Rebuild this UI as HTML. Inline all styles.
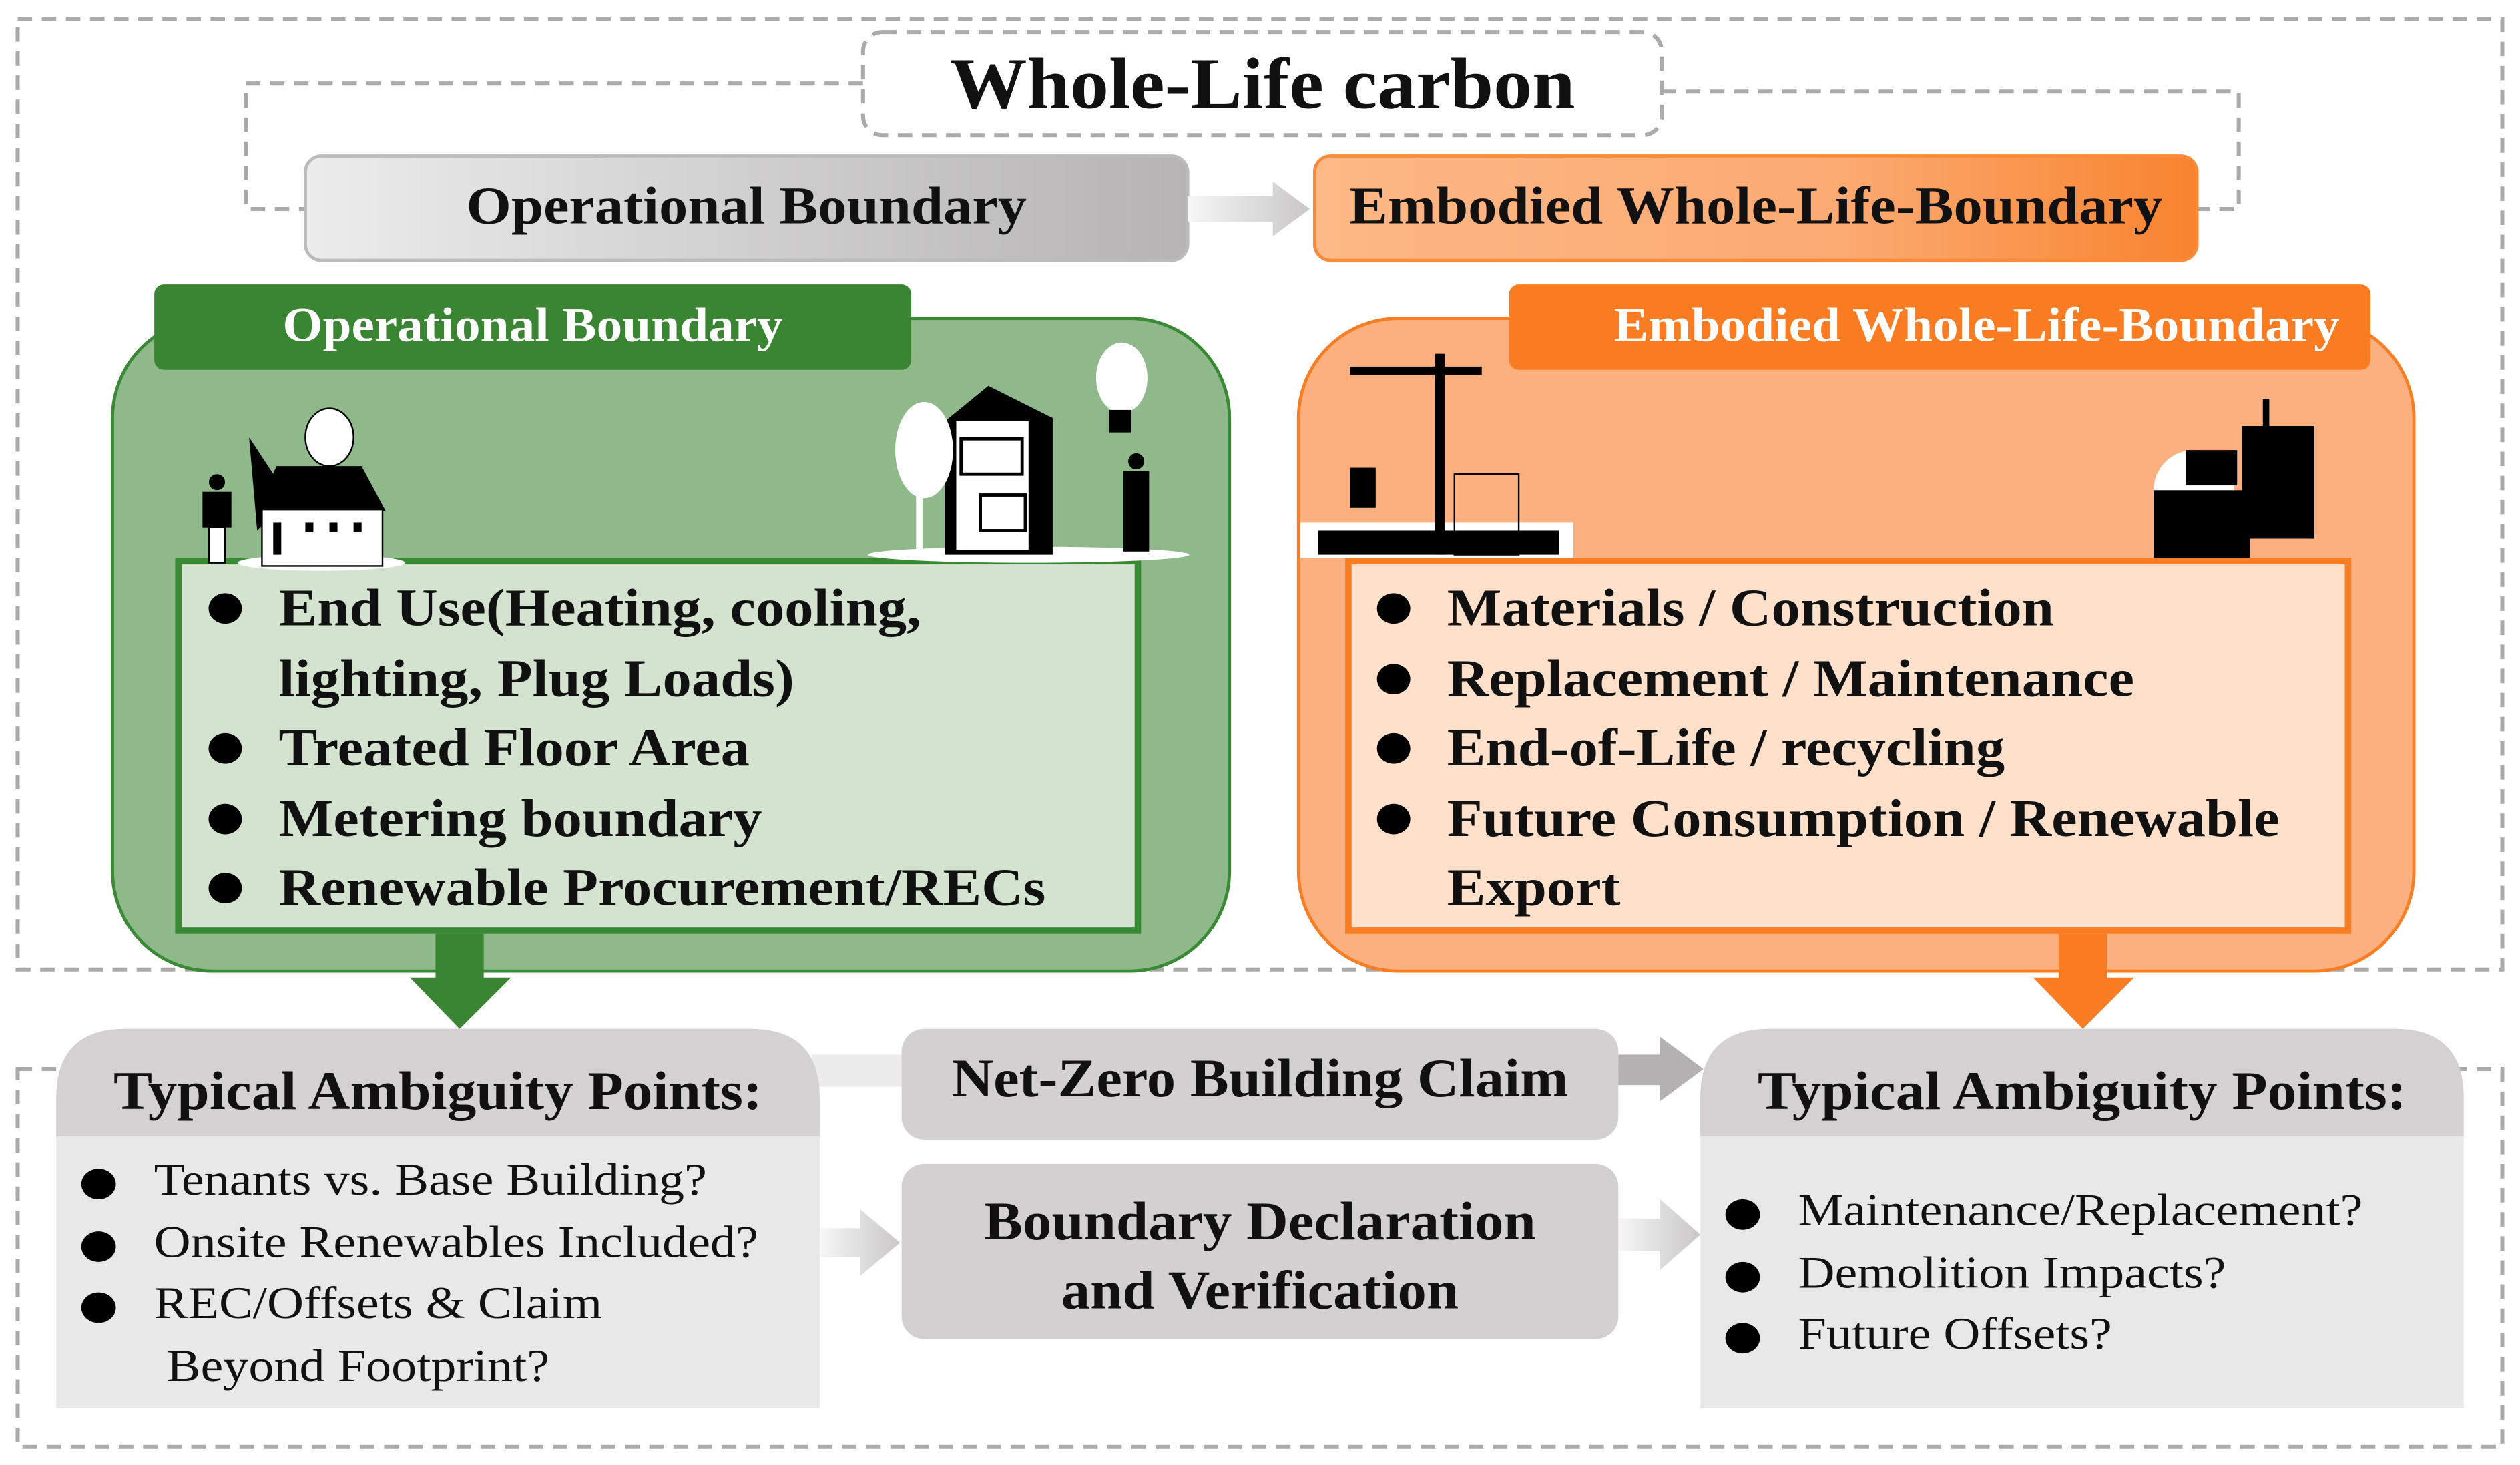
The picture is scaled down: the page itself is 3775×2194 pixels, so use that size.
<!DOCTYPE html>
<html><head><meta charset="utf-8"><style>
body{margin:0;background:#fff;}
#c{position:absolute;left:0;top:0;width:1568px;height:911px;transform:scale(2.4075);transform-origin:0 0;font-family:"Liberation Serif",serif;}
.a{position:absolute;box-sizing:border-box;}
.t{position:absolute;white-space:nowrap;font-weight:bold;color:#111;}
.ul{position:absolute;margin:0;padding:0;list-style:none;transform-origin:0 0;}
.ul li{position:relative;padding-left:60px;}
.ul li:before{content:"";position:absolute;left:20px;top:11px;width:19px;height:19px;border-radius:50%;background:#000;}
</style></head><body><div id="c">
<svg class="a" style="left:0;top:0" width="1568" height="911">
<g fill="none" stroke="#aaa" stroke-width="2.5" stroke-dasharray="9,6">
<rect x="11" y="12" width="1546" height="591"/>
<rect x="11" y="665" width="1546" height="235"/>
<path d="M537 52 H153 V130 H190"/>
<path d="M1034 57 H1393 V130 H1367"/>
</g>
<rect x="537" y="20" width="497" height="64" rx="12" fill="#fff" stroke="#aaa" stroke-width="2.5" stroke-dasharray="9,6"/>
<defs>
<linearGradient id="g1" x1="0" x2="1"><stop offset="0" stop-color="#ececec"/><stop offset="1" stop-color="#b5b3b4"/></linearGradient>
<linearGradient id="g2" x1="0" x2="1"><stop offset="0" stop-color="#fcb886"/><stop offset="0.6" stop-color="#fbaa72"/><stop offset="1" stop-color="#f8832e"/></linearGradient>
<linearGradient id="g3" x1="0" x2="1"><stop offset="0" stop-color="#f6f6f6"/><stop offset="1" stop-color="#c9c7c8"/></linearGradient>
</defs>
<rect x="190" y="97" width="549" height="65" rx="10" fill="url(#g1)" stroke="#bbb" stroke-width="2"/>
<path d="M739 122 H792 V113 L815 130 L792 147 V138 H739Z" fill="url(#g3)"/>
<rect x="818" y="97" width="549" height="65" rx="10" fill="url(#g2)" stroke="#f98a3a" stroke-width="2"/>
<rect x="70" y="198" width="695" height="406" rx="62" fill="#8fb98a" stroke="#3a8a35" stroke-width="2"/>
<rect x="96" y="177" width="471" height="53" rx="6" fill="#3a8532"/>
<rect x="111" y="349" width="597" height="230" fill="#d4e3cf" stroke="#3a8a35" stroke-width="4"/>
<rect x="808" y="198" width="694" height="406" rx="62" fill="#fdb07f" stroke="#f97e23" stroke-width="2"/>
<rect x="939" y="177" width="536" height="53" rx="6" fill="#f97c22"/>
<rect x="839" y="349" width="622" height="230" fill="#fee0cb" stroke="#f97e23" stroke-width="4"/>
<path d="M271 581 H301 V608 H318 L286 640 L255 608 H271Z" fill="#3a8532"/>
<path d="M1281 581 H1311 V608 H1328 L1296 640 L1265 608 H1281Z" fill="#f97c22"/>
<rect x="505" y="656" width="60" height="20" fill="#ececec"/>
<path d="M1007 656 H1033 V645 L1060 665 L1033 685 V675 H1007Z" fill="#b3b1b2"/>
<path d="M510 764 H535 V752 L560 773 L535 794 V782 H510Z" fill="url(#g3)"/>
<path d="M1007 758 H1033 V746 L1058 768 L1033 790 V778 H1007Z" fill="url(#g3)"/>
<path d="M35 876 V683 Q35 640 78 640 H467 Q510 640 510 683 V876Z" fill="#e8e8e8"/>
<path d="M35 707 V683 Q35 640 78 640 H467 Q510 640 510 683 V707Z" fill="#d3d1d2"/>
<path d="M1058 876 V683 Q1058 640 1101 640 H1490 Q1533 640 1533 683 V876Z" fill="#e8e8e8"/>
<path d="M1058 707 V683 Q1058 640 1101 640 H1490 Q1533 640 1533 683 V707Z" fill="#d3d1d2"/>
<rect x="561" y="640" width="446" height="69" rx="14" fill="#d3d0d1"/>
<rect x="561" y="724" width="446" height="109" rx="14" fill="#d3d0d1"/>
<g fill="#000">
<ellipse cx="200" cy="350" rx="52" ry="5" fill="#fff"/>
<ellipse cx="205" cy="272" rx="15" ry="18" fill="#fff" stroke="#000"/>
<path d="M155 272 L180 310 L160 330Z"/>
<path d="M172 290 H225 L240 318 H160Z"/>
<rect x="163" y="317" width="75" height="35" fill="#fff" stroke="#000"/>
<rect x="170" y="325" width="5" height="20"/><rect x="190" y="325" width="5" height="6"/><rect x="205" y="325" width="5" height="6"/><rect x="220" y="325" width="5" height="6"/>
<circle cx="135" cy="300" r="5"/><rect x="126" y="306" width="18" height="22"/><rect x="130" y="328" width="10" height="22" fill="#fff" stroke="#000"/>
<ellipse cx="640" cy="345" rx="100" ry="5" fill="#fff"/>
<ellipse cx="698" cy="235" rx="16" ry="22" fill="#fff"/>
<rect x="690" y="255" width="14" height="14"/>
<path d="M588 262 L615 240 L655 260 V345 H588Z"/>
<rect x="595" y="262" width="45" height="80" fill="#fff"/>
<rect x="598" y="273" width="38" height="22" fill="#fff" stroke="#000" stroke-width="2"/>
<rect x="610" y="308" width="28" height="22" fill="#fff" stroke="#000" stroke-width="2"/>
<circle cx="707" cy="287" r="5"/><rect x="699" y="293" width="16" height="50"/>
<ellipse cx="575" cy="280" rx="18" ry="30" fill="#fff"/>
<rect x="570" y="290" width="4" height="55" fill="#fff"/>
<rect x="809" y="325" width="170" height="22" fill="#fff"/>
<rect x="893" y="220" width="6" height="125"/><rect x="840" y="228" width="82" height="5"/>
<rect x="840" y="291" width="16" height="25"/><rect x="905" y="295" width="40" height="50" fill="none" stroke="#000"/>
<rect x="820" y="330" width="150" height="15"/>
<circle cx="1365" cy="305" r="25" fill="#fff"/>
<rect x="1340" y="305" width="60" height="42"/><rect x="1360" y="280" width="32" height="22"/>
<rect x="1395" y="265" width="45" height="70"/><rect x="1408" y="248" width="4" height="30"/>
</g>
</svg>
<div class="t" style="left:537px;width:497px;top:26px;font-size:45px;text-align:center;transform:scaleX(1.07)">Whole-Life carbon</div>
<div class="t" style="left:190px;width:549px;top:111px;font-size:33px;text-align:center;transform:scaleX(1.09)">Operational Boundary</div>
<div class="t" style="left:818px;width:549px;top:111px;font-size:33px;text-align:center;transform:scaleX(1.09)">Embodied Whole-Life-Boundary</div>
<div class="t" style="left:96px;width:471px;top:186px;font-size:30px;text-align:center;color:#fff;transform:scaleX(1.07)">Operational Boundary</div>
<div class="t" style="left:985px;width:490px;top:186px;font-size:30px;text-align:center;color:#fff;transform:scaleX(1.07)">Embodied Whole-Life-Boundary</div>
<ul class="ul t" style="left:108px;top:358px;font-size:33px;line-height:43.5px;transform:scaleX(1.09)">
<li>End Use(Heating, cooling,<br>lighting, Plug Loads)</li><li>Treated Floor Area</li><li>Metering boundary</li><li>Renewable Procurement/RECs</li></ul>
<ul class="ul t" style="left:835px;top:358px;font-size:33px;line-height:43.5px;transform:scaleX(1.09)">
<li>Materials / Construction</li><li>Replacement / Maintenance</li><li>End-of-Life / recycling</li><li>Future Consumption / Renewable<br>Export</li></ul>
<div class="t" style="left:35px;width:475px;top:661px;font-size:34px;text-align:center;transform:scaleX(1.065)">Typical Ambiguity Points:</div>
<div class="t" style="left:1058px;width:475px;top:661px;font-size:34px;text-align:center;transform:scaleX(1.065)">Typical Ambiguity Points:</div>
<div class="t" style="left:561px;width:446px;top:653px;font-size:34px;text-align:center;transform:scaleX(1.06)">Net-Zero Building Claim</div>
<div class="t" style="left:561px;width:446px;top:739px;font-size:34px;text-align:center;line-height:43px;transform:scaleX(1.06)">Boundary Declaration<br>and Verification</div>
<ul class="ul t" style="left:28px;top:716px;font-size:28px;line-height:38.7px;font-weight:normal;transform:scaleX(1.13)">
<li>Tenants vs. Base Building?</li><li>Onsite Renewables Included?</li><li>REC/Offsets &amp; Claim<br>&nbsp;Beyond Footprint?</li></ul>
<ul class="ul t" style="left:1051px;top:735px;font-size:28px;line-height:38.7px;font-weight:normal;transform:scaleX(1.13)">
<li>Maintenance/Replacement?</li><li>Demolition Impacts?</li><li>Future Offsets?</li></ul>
</div></body></html>
